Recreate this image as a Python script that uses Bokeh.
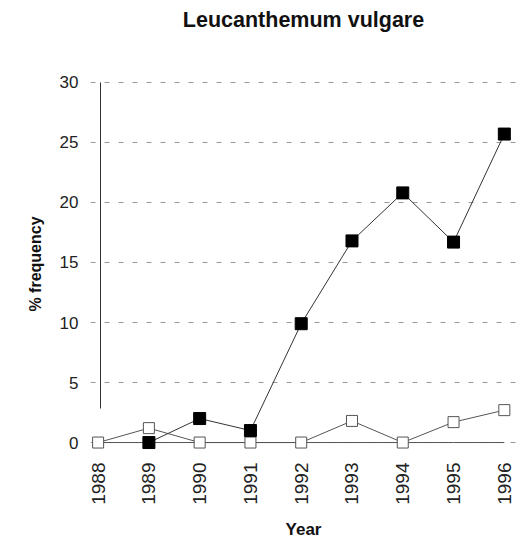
from math import pi
from bokeh.plotting import figure
from bokeh.models import Range1d, FixedTicker, LinearAxis
from bokeh.embed import file_html
from bokeh.resources import INLINE

# ---- data ----
years = [1988, 1989, 1990, 1991, 1992, 1993, 1994, 1995, 1996]
filled_years = [1989, 1990, 1991, 1992, 1993, 1994, 1995, 1996]
filled_vals = [0, 2.0, 1.0, 9.9, 16.8, 20.8, 16.7, 25.7]
open_vals = [0, 1.2, 0, 0, 0, 1.8, 0, 1.7, 2.7]
zero_vals = [0, 0, 0, 0, 0, 0, 0, 0, 0]
y_ticks = [0, 5, 10, 15, 20, 25, 30]
x_tick_labels = {y: str(y) for y in years}
title_text = "Leucanthemum vulgare"

FONT = "Liberation Sans"

p = figure(width=526, height=544,
           x_range=Range1d(1987.85, 1996.24), y_range=Range1d(-0.83, 30.58),
           output_backend="svg", toolbar_location=None,
           min_border_left=90, min_border_right=10, min_border_top=75, min_border_bottom=92)
p.outline_line_color = None
p.title.text = ""
p.title.standoff = 0

# main y axis: labels only
ya = p.yaxis[0]
ya.ticker = FixedTicker(ticks=y_ticks)
ya.axis_line_color = None
ya.major_tick_line_color = None
ya.minor_tick_line_color = None
ya.major_label_text_font = FONT
ya.major_label_text_font_size = "17px"
ya.major_label_text_color = "#222222"
ya.major_label_standoff = 6
ya.axis_label = "% frequency"
ya.axis_label_text_font = FONT
ya.axis_label_text_font_size = "16px"
ya.axis_label_text_font_style = "bold"
ya.axis_label_text_color = "#111111"
ya.axis_label_standoff = 13

# x axis
xa = p.xaxis[0]
xa.ticker = FixedTicker(ticks=years)
xa.major_label_overrides = x_tick_labels
xa.major_label_orientation = pi / 2
xa.axis_line_color = None
xa.major_tick_line_color = None
xa.minor_tick_line_color = None
xa.major_label_text_font = FONT
xa.major_label_text_font_size = "19px"
xa.major_label_text_color = "#222222"
xa.major_label_standoff = 4
xa.axis_label = "Year"
xa.axis_label_text_font = FONT
xa.axis_label_text_font_size = "17px"
xa.axis_label_text_font_style = "bold"
xa.axis_label_text_color = "#111111"
xa.axis_label_standoff = 12

# vertical axis line at the first year (no ticks, no labels)
axis_line = LinearAxis(ticker=FixedTicker(ticks=[], minor_ticks=[]), fixed_location=1988.05,
                       bounds=(2.8, 30), axis_line_color="#333333", axis_line_width=1,
                       major_tick_in=0, major_tick_out=0, major_tick_line_color=None,
                       minor_tick_line_color=None, major_label_standoff=0)
p.add_layout(axis_line, "left")

# title drawn as the label of an empty axis above the frame
title_axis = LinearAxis(ticker=FixedTicker(ticks=[], minor_ticks=[]),
                        bounds=(1989.06, 1995.33),
                        axis_line_color=None, major_tick_line_color=None,
                        minor_tick_line_color=None, major_tick_in=0, major_tick_out=0,
                        major_label_standoff=0,
                        axis_label=title_text, axis_label_text_font=FONT,
                        axis_label_text_font_size="21.5px",
                        axis_label_text_font_style="bold",
                        axis_label_text_color="#111111",
                        axis_label_standoff=44)
p.add_layout(title_axis, "above")

# grid
p.xgrid.visible = False
p.ygrid.ticker = FixedTicker(ticks=y_ticks)
p.ygrid.bounds = (5, 30)
p.ygrid.grid_line_color = "#999999"
p.ygrid.grid_line_dash = "5 9"
p.ygrid.grid_line_width = 1

# series
p.line(years, zero_vals, line_color="#555555", line_width=1)
p.line(years, open_vals, line_color="#555555", line_width=1)
p.scatter(years, open_vals, marker="square", size=11, fill_color="white",
          line_color="#555555", line_width=1)
p.line(filled_years, filled_vals, line_color="#333333", line_width=1)
p.scatter(filled_years, filled_vals, marker="square", size=12, fill_color="black",
          line_color="black")

open("out.html", "w").write(file_html(p, INLINE))
